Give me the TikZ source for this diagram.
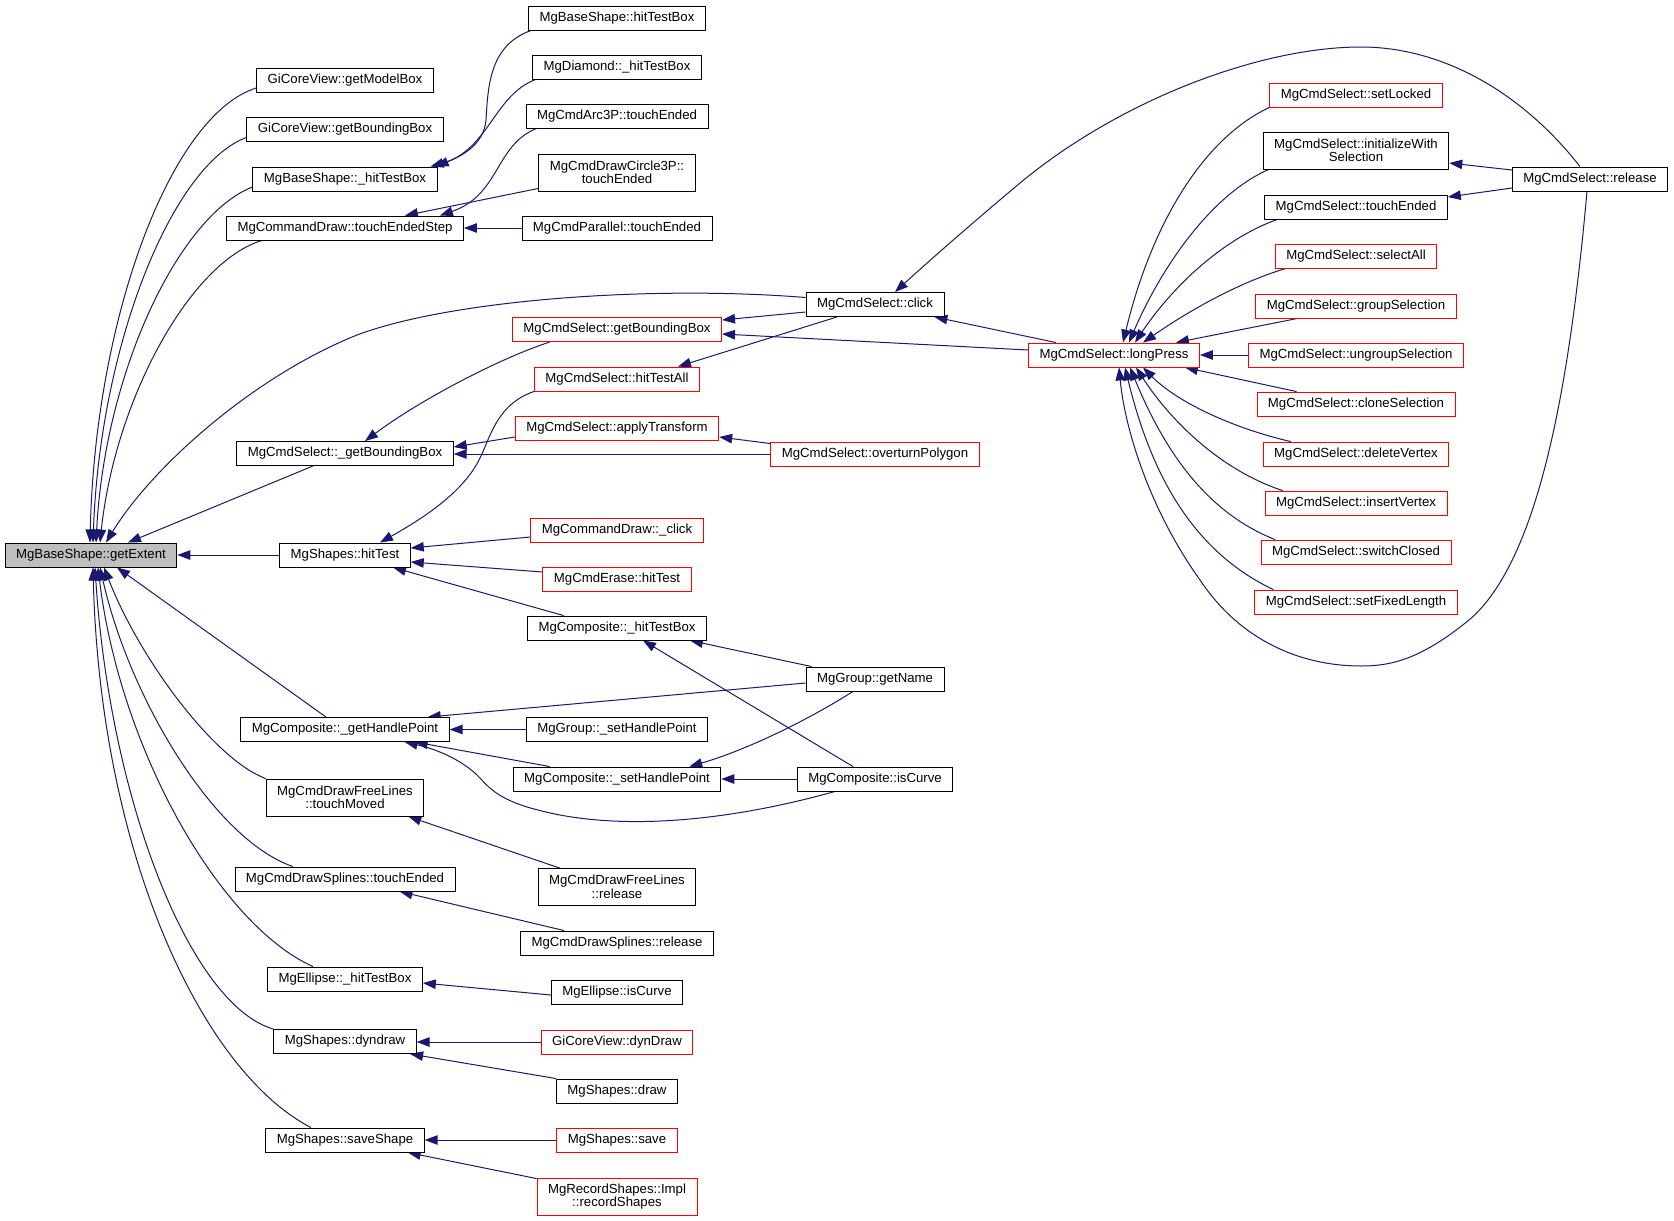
\documentclass[tikz,border=0pt]{standalone}
\usepackage{fontspec}
\newfontfamily\lsans{Liberation Sans}
\usetikzlibrary{arrows.meta}
\definecolor{edgeblue}{HTML}{191970}
\definecolor{rootgray}{HTML}{BFBFBF}
\definecolor{nodered}{HTML}{FF0000}
\pgfdeclarelayer{bg}
\pgfdeclarelayer{paper}
\pgfsetlayers{paper,bg,main}
\tikzset{
  nd/.style={draw=black, line width=0.9pt, fill=white, inner xsep=11pt, inner ysep=0pt,
    minimum height=24pt, align=center, font=\lsans\fontsize{13.2pt}{13.5pt}\selectfont},
  ndr/.style={nd, draw=nodered},
  nd2/.style={nd, minimum height=37pt},
  ndr2/.style={nd2, draw=nodered},
  edge/.style={draw=edgeblue, line width=1pt, -{Triangle[length=13pt,width=9.5pt]}}
}
\begin{document}
\begin{tikzpicture}[x=1pt,y=-1pt]
\begin{pgfonlayer}{paper}
\fill[white] (0,0) rectangle (1674,1221);
\end{pgfonlayer}
\useasboundingbox (0,0) rectangle (1674,1221);
% column 1/2
\node[nd, fill=rootgray] (R) at (91,555) {MgBaseShape::getExtent};
\node[nd] (gmb) at (345,80) {GiCoreView::getModelBox};
\node[nd] (gbb) at (345,129.5) {GiCoreView::getBoundingBox};
\node[nd] (bhtb) at (345,179) {MgBaseShape::\_hitTestBox};
\node[nd] (tes) at (345,228) {MgCommandDraw::touchEndedStep};
\node[nd] (sgbb) at (345,453.5) {MgCmdSelect::\_getBoundingBox};
\node[nd] (hit) at (345,555) {MgShapes::hitTest};
\node[nd] (hgp) at (345,729.5) {MgComposite::\_getHandlePoint};
\node[nd2] (tm) at (345,797.5) {MgCmdDrawFreeLines\\::touchMoved};
\node[nd] (ste) at (345,879) {MgCmdDrawSplines::touchEnded};
\node[nd] (eht) at (345,979) {MgEllipse::\_hitTestBox};
\node[nd] (dd) at (345,1041.5) {MgShapes::dyndraw};
\node[nd] (ss) at (345,1140) {MgShapes::saveShape};
% column 3
\node[nd] (bhb) at (617,18) {MgBaseShape::hitTestBox};
\node[nd] (dia) at (617,67) {MgDiamond::\_hitTestBox};
\node[nd] (arc) at (617,116) {MgCmdArc3P::touchEnded};
\node[nd2] (c3p) at (617,172.5) {MgCmdDrawCircle3P::\\touchEnded};
\node[nd] (par) at (617,228) {MgCmdParallel::touchEnded};
\node[ndr] (sgbR) at (617,329.5) {MgCmdSelect::getBoundingBox};
\node[ndr] (hta) at (617,379) {MgCmdSelect::hitTestAll};
\node[ndr] (apt) at (617,428) {MgCmdSelect::applyTransform};
\node[ndr] (clk) at (617,530) {MgCommandDraw::\_click};
\node[ndr] (era) at (617,579) {MgCmdErase::hitTest};
\node[nd] (chtb) at (617,628) {MgComposite::\_hitTestBox};
\node[nd] (gsh) at (617,729.5) {MgGroup::\_setHandlePoint};
\node[nd] (csh) at (617,779) {MgComposite::\_setHandlePoint};
\node[nd2] (flr) at (617,887) {MgCmdDrawFreeLines\\::release};
\node[nd] (spr) at (617,943) {MgCmdDrawSplines::release};
\node[nd] (eic) at (617,992) {MgEllipse::isCurve};
\node[ndr] (dyn) at (617,1042) {GiCoreView::dynDraw};
\node[nd] (drw) at (617,1091) {MgShapes::draw};
\node[ndr] (sav) at (617,1140) {MgShapes::save};
\node[ndr2] (rec) at (617,1196.5) {MgRecordShapes::Impl\\::recordShapes};
% column 4
\node[nd] (click) at (875,304.5) {MgCmdSelect::click};
\node[ndr] (ovp) at (875,454) {MgCmdSelect::overturnPolygon};
\node[nd] (gn) at (875,679) {MgGroup::getName};
\node[nd] (icv) at (875,779) {MgComposite::isCurve};
\node[ndr] (lp) at (1114,355) {MgCmdSelect::longPress};
% column 5
\node[ndr] (slk) at (1356,95) {MgCmdSelect::setLocked};
\node[nd2] (iws) at (1356,150.5) {MgCmdSelect::initializeWith\\Selection};
\node[nd] (te5) at (1356,207) {MgCmdSelect::touchEnded};
\node[ndr] (sal) at (1356,256) {MgCmdSelect::selectAll};
\node[ndr] (gsl) at (1356,306) {MgCmdSelect::groupSelection};
\node[ndr] (ugs) at (1356,355) {MgCmdSelect::ungroupSelection};
\node[ndr] (csl) at (1356,404) {MgCmdSelect::cloneSelection};
\node[ndr] (dvx) at (1356,454) {MgCmdSelect::deleteVertex};
\node[ndr] (ivx) at (1356,503) {MgCmdSelect::insertVertex};
\node[ndr] (swc) at (1356,552) {MgCmdSelect::switchClosed};
\node[ndr] (sfl) at (1356,602) {MgCmdSelect::setFixedLength};
\node[nd] (rel) at (1590,179) {MgCmdSelect::release};

\begin{pgfonlayer}{bg}
% into root
\draw[edge] ([yshift=-8pt]gmb.west) .. controls (170,115) and (95,320) .. ([xshift=-1pt]R.north);
\draw[edge] ([yshift=-8pt]gbb.west) .. controls (172,165) and (100,345) .. ([xshift=2pt]R.north);
\draw[edge] ([yshift=-8pt]bhtb.west) .. controls (180,215) and (105,370) .. ([xshift=5pt]R.north);
\draw[edge] ([xshift=36pt]tes.south west) .. controls (190,262) and (115,400) .. ([xshift=9pt]R.north);
\draw[edge] ([yshift=7pt]click.west) .. controls (650,285) and (450,300) .. (357,335) .. controls (250,378) and (150,470) .. ([xshift=15pt]R.north);
\draw[edge] ([xshift=-32pt]sgbb.south) -- ([xshift=37pt]R.north);
\draw[edge] (hit.west) -- (R.east);
\draw[edge] ([xshift=-19pt]hgp.north) -- ([xshift=26pt]R.south);
\draw[edge] (tm.north west) .. controls (215,760) and (140,660) .. ([xshift=13pt]R.south);
\draw[edge] ([xshift=-52pt]ste.north) .. controls (215,840) and (130,700) .. ([xshift=9pt]R.south);
\draw[edge] ([xshift=-32pt]eht.north) .. controls (220,925) and (120,750) .. ([xshift=7pt]R.south);
\draw[edge] (dd.north west) .. controls (190,1005) and (110,800) .. ([xshift=4pt]R.south);
\draw[edge] ([xshift=-34pt]ss.north) .. controls (200,1070) and (100,850) .. ([xshift=2pt]R.south);
% second level
\draw[edge] ([xshift=3pt]bhb.south west) .. controls (490,45) and (488,85) .. (486,120) .. controls (484,145) and (460,158) .. ([xshift=-7pt]bhtb.north east);
\draw[edge] ([xshift=3.5pt]dia.south west) .. controls (495,95) and (490,145) .. ([xshift=-2pt]bhtb.north east);
\draw[edge] ([xshift=11pt]arc.south west) .. controls (495,145) and (500,195) .. ([xshift=-24pt]tes.north east);
\draw[edge] ([yshift=3pt]c3p.south west) -- ([xshift=-59pt]tes.north east);
\draw[edge] (par.west) -- (tes.east);
\draw[edge] ([xshift=38pt]sgbR.south west) .. controls (500,358) and (420,400) .. ([xshift=20pt]sgbb.north);
\draw[edge] ([yshift=-9pt]apt.west) -- ([yshift=6.5pt]sgbb.east);
\draw[edge] (ovp.west) -- (ovp.west -| sgbb.east);
\draw[edge] (hta.south west) .. controls (495,405) and (490,440) .. (478,462) .. controls (460,495) and (420,520) .. ([xshift=35pt]hit.north);
\draw[edge] ([yshift=-7pt]clk.west) -- ([yshift=7pt]hit.east);
\draw[edge] ([yshift=7pt]era.west) -- ([yshift=-7pt]hit.east);
\draw[edge] ([xshift=36.5pt]chtb.north west) -- ([xshift=48pt]hit.south);
\draw[edge] ([yshift=-4pt]gn.west) -- ([xshift=-22pt]hgp.north east);
\draw[edge] (gsh.west) -- (gsh.west -| hgp.east);
\draw[edge] ([xshift=37pt]csh.north west) -- ([xshift=-35pt]hgp.south east);
\draw[edge] ([xshift=-40pt]icv.south) .. controls (740,818) and (640,830) .. (560,815) .. controls (510,805) and (495,795) .. (480,778) .. controls (465,762) and (440,750) .. ([xshift=-45pt]hgp.south east);
\draw[edge] ([xshift=22pt]flr.north west) -- ([xshift=-16pt]tm.south east);
\draw[edge] ([xshift=44pt]spr.north west) -- ([xshift=-56pt]ste.south east);
\draw[edge] ([yshift=-3pt]eic.west) -- ([yshift=-4pt]eht.east);
\draw[edge] (dyn.west) -- (dyn.west -| dd.east);
\draw[edge] (drw.north west) -- ([xshift=-6.5pt]dd.south east);
\draw[edge] (sav.west) -- (sav.west -| ss.east);
\draw[edge] ([yshift=-1pt]rec.north west) -- ([xshift=-17pt]ss.south east);
% third/fourth level
\draw[edge] ([yshift=-7.5pt]click.west) -- ([yshift=9.5pt]sgbR.east);
\draw[edge] ([yshift=5pt]lp.west) -- ([yshift=-4.5pt]sgbR.east);
\draw[edge] ([xshift=-38pt]click.south) -- ([xshift=-22pt]hta.north east);
\draw[edge] ([xshift=-58pt]lp.north) -- ([xshift=-10pt]click.south east);
\draw[edge] ([xshift=-10pt]rel.north) .. controls (1520,90) and (1440,47) .. (1361,47) .. controls (1260,47) and (1120,100) .. (1020,183) .. controls (970,225) and (930,260) .. ([xshift=20pt]click.north);
\draw[edge] ([yshift=-2pt]ovp.north west) -- ([yshift=-9pt]apt.east);
\draw[edge] ([xshift=6pt]gn.north west) -- ([xshift=-17pt]chtb.south east);
\draw[edge] ([xshift=-22pt]icv.north) -- ([xshift=26pt]chtb.south);
\draw[edge] ([xshift=-22pt]gn.south) .. controls (800,725) and (740,752) .. ([xshift=-32pt]csh.north east);
\draw[edge] (icv.west) -- (csh.east);
% into longPress
\draw[edge] (slk.south west) .. controls (1200,140) and (1150,230) .. ([xshift=9pt]lp.north);
\draw[edge] ([xshift=6pt]iws.south west) .. controls (1210,195) and (1160,270) .. ([xshift=15pt]lp.north);
\draw[edge] ([xshift=13pt]te5.south west) .. controls (1220,240) and (1170,290) .. ([xshift=21pt]lp.north);
\draw[edge] ([xshift=11pt]sal.south west) .. controls (1240,282) and (1190,310) .. ([xshift=29pt]lp.north);
\draw[edge] ([xshift=42pt]gsl.south west) -- ([xshift=-24pt]lp.north east);
\draw[edge] (ugs.west) -- (lp.east);
\draw[edge] ([xshift=40pt]csl.north west) -- ([xshift=-15pt]lp.south east);
\draw[edge] ([xshift=28pt]dvx.north west) .. controls (1240,430) and (1180,405) .. ([xshift=29pt]lp.south);
\draw[edge] ([xshift=18pt]ivx.north west) .. controls (1220,470) and (1170,420) .. ([xshift=22pt]lp.south);
\draw[edge] ([xshift=14.5pt]swc.north west) .. controls (1200,510) and (1160,440) .. ([xshift=16pt]lp.south);
\draw[edge] ([xshift=19pt]sfl.north west) .. controls (1190,550) and (1150,470) .. ([xshift=11pt]lp.south);
\draw[edge] ([xshift=-3pt]rel.south) .. controls (1570,380) and (1540,560) .. (1469,620) .. controls (1420,660) and (1390,666) .. (1361,666) .. controls (1300,666) and (1240,640) .. (1200,580) .. controls (1150,510) and (1125,430) .. ([xshift=5pt]lp.south);
\draw[edge] ([yshift=9pt]rel.west) -- ([yshift=-12.5pt]iws.east);
\draw[edge] ([yshift=-9pt]rel.west) -- ([yshift=10pt]te5.east);
\end{pgfonlayer}
\end{tikzpicture}
\end{document}
